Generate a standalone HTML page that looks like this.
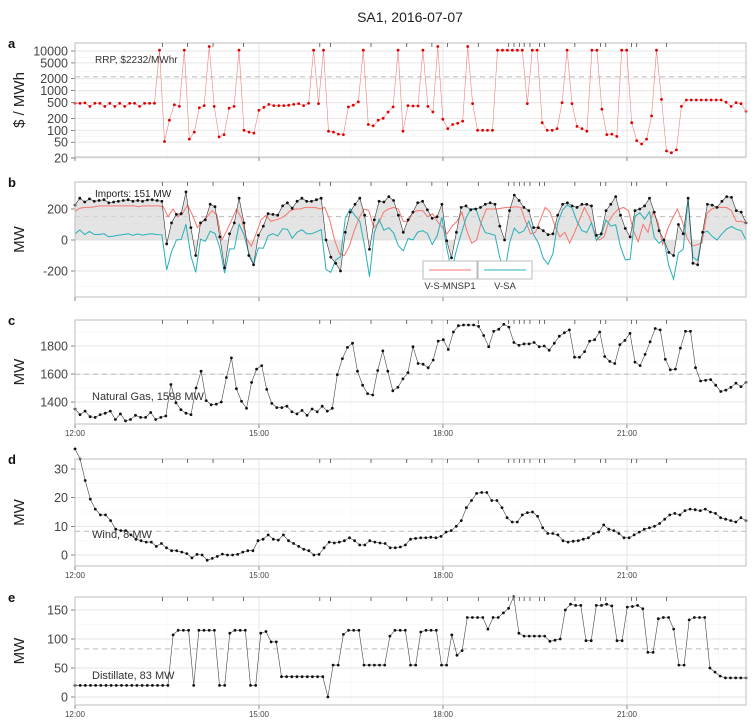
<!DOCTYPE html>
<html><head><meta charset="utf-8"><style>
html,body{margin:0;padding:0;background:#fff;}
svg{display:block;font-family:"Liberation Sans",sans-serif;}
</style></head><body>
<svg id="s" width="754" height="724" xmlns="http://www.w3.org/2000/svg"></svg>
<script>
const S=document.getElementById('s');let h='';
const X0=75,X1=746,HP=61.33;
const hx=t=>X0+(t-12)*HP;
h+='<text x="410" y="22" font-size="14" text-anchor="middle" fill="#222">SA1, 2016-07-07</text>';
function xs(n){const a=[];for(let i=0;i<n;i++)a.push(X0+(X1-X0)*i/(n-1));return a;}
const rug=[336,388,441,504,662,684,768,842,894,926,990,1053,1064,1075,1085,1097,1117,1127,1190,1243,1254,1307,1318,1380].map(v=>v/2.07);
function panel(p){
 const {top,bot,y,maj,min,letter,title,labels,dash,lab}=p;
 h+=`<rect x="${X0}" y="${top}" width="${X1-X0}" height="${bot-top}" fill="#fff"/>`;
 (min||[]).forEach(v=>{const yy=y(v);if(yy>top&&yy<bot)h+=`<line x1="${X0}" x2="${X1}" y1="${yy}" y2="${yy}" stroke="#f3f3f3" stroke-width="0.6"/>`;});
 [13.5,16.5,19.5,22.5].forEach(t=>h+=`<line x1="${hx(t)}" x2="${hx(t)}" y1="${top}" y2="${bot}" stroke="#f3f3f3" stroke-width="0.6"/>`);
 maj.forEach(v=>{const yy=y(v);h+=`<line x1="${X0}" x2="${X1}" y1="${yy}" y2="${yy}" stroke="#e6e6e6" stroke-width="1"/>`;
  h+=`<text x="68" y="${yy+4.5}" font-size="12.5" text-anchor="end" fill="#444">${v}</text><line x1="71" x2="75" y1="${yy}" y2="${yy}" stroke="#333" stroke-width="0.6"/>`;});
 [12,15,18,21].forEach(t=>{h+=`<line x1="${hx(t)}" x2="${hx(t)}" y1="${top}" y2="${bot}" stroke="#e6e6e6" stroke-width="1"/>`;
  h+=`<line x1="${hx(t)}" x2="${hx(t)}" y1="${bot}" y2="${bot+4}" stroke="#333" stroke-width="0.6"/>`;
  if(labels)h+=`<text x="${hx(t)}" y="${bot+12}" font-size="8" text-anchor="middle" fill="#444">${t}:00</text>`;});
 h+=`<line x1="${X0}" x2="${X1}" y1="${y(dash)}" y2="${y(dash)}" stroke="#bbb" stroke-width="1" stroke-dasharray="5,4"/>`;
 h+=`<text x="8" y="${top+5}" font-size="13" font-weight="bold" fill="#111">${letter}</text>`;
 const cy=(top+bot)/2;h+=`<text transform="translate(24,${cy}) rotate(-90)" font-size="15" text-anchor="middle" fill="#222">${title}</text>`;
}
function frame(top,bot){h+=`<rect x="${X0}" y="${top}" width="${X1-X0}" height="${bot-top}" fill="none" stroke="#bdbdbd" stroke-width="1"/>`;
 rug.forEach(x=>h+=`<line x1="${x}" x2="${x}" y1="${top}" y2="${top+4}" stroke="#333" stroke-width="0.7"/>`);}
function line(v,y,col,pts,w){const X=xs(v.length);h+=`<polyline fill="none" stroke="${col}" stroke-width="${w||0.6}" points="${v.map((d,i)=>X[i].toFixed(1)+','+y(d).toFixed(1)).join(' ')}"/>`;
 if(pts)v.forEach((d,i)=>h+=`<circle cx="${X[i].toFixed(1)}" cy="${y(d).toFixed(1)}" r="1.4" fill="${pts}"/>`);}
// panel a
const ya=v=>51+(4-Math.log10(v))*39.64;
panel({top:43,bot:157,y:ya,maj:[20,50,100,200,500,1000,2000,5000,10000],min:[30,70,150,300,700,1500,3000,7000],letter:'a',title:'$ / MWh',dash:2232});
const A=[480,480,490,400,480,480,400,480,400,480,400,480,480,400,480,480,480,10500,52,180,440,400,10500,60,90,370,420,13000,400,68,78,360,400,10500,100,90,85,320,380,450,420,420,420,430,450,470,420,480,10500,470,10500,95,90,80,78,390,430,520,10500,140,130,180,200,290,390,10500,95,420,410,410,10500,400,290,13000,190,110,140,150,170,13000,470,100,100,100,100,10500,10500,10500,10500,10500,10500,470,10500,10500,155,100,100,110,500,10500,470,125,110,95,10500,10500,340,78,80,70,10500,10500,155,55,45,60,230,10500,600,30,27,32,400,580,580,580,580,580,580,580,580,510,400,500,470,300];
line(A,v=>Math.max(ya(v),43),'#f08080','#e00000',0.6);
h+='<text x="95" y="63" font-size="10" fill="#333">RRP, $2232/MWhr</text>';
frame(43,157);
// panel b
const yb=v=>240-v*0.155;
panel({top:182,bot:297,y:yb,maj:[-200,0,200],min:[-300,-100,100,300],letter:'b',title:'MW',dash:151});
const B=[225,270,245,265,250,255,260,240,245,250,255,260,250,255,250,258,260,255,250,-25,110,165,170,310,80,-100,110,130,230,215,20,-180,40,110,270,110,-100,-160,30,90,170,165,160,220,240,205,250,270,250,250,260,270,0,-110,-150,-200,50,180,230,270,160,-60,130,250,245,280,255,160,50,130,180,240,250,195,140,150,230,-5,-115,50,210,220,195,200,210,230,240,230,90,0,190,290,255,210,190,80,80,60,35,40,160,230,240,220,210,230,230,220,30,40,190,230,280,160,75,20,190,200,220,270,180,60,0,-80,-100,100,40,270,-150,-160,50,230,225,210,250,280,275,190,180,110];
const R=[185,205,210,210,215,220,220,220,220,220,220,220,220,215,220,220,220,220,215,150,200,150,175,225,160,80,120,150,190,160,0,60,130,200,140,10,-40,40,130,160,120,130,140,160,190,200,200,210,210,210,200,210,130,0,-90,-100,-40,60,140,200,190,80,110,180,200,210,200,120,120,180,190,190,150,170,120,80,40,90,120,180,60,-20,0,120,200,200,200,205,210,210,215,210,120,40,50,130,210,180,90,20,50,-20,50,130,210,150,60,0,20,120,170,200,210,190,60,-10,100,50,180,120,-30,70,140,200,120,10,-40,-30,-20,170,200,210,210,210,190,120,120,110];
function interp(arr,f){const p=f*(arr.length-1),i=Math.floor(p),r=p-i;return i>=arr.length-1?arr[arr.length-1]:arr[i]*(1-r)+arr[i+1]*r;}
const T=B.map((v,i)=>v-interp(R,i/(B.length-1)));
{const X=xs(B.length);let d=`M${X0},${yb(0)} `+B.map((v,i)=>`L${X[i].toFixed(1)},${yb(v).toFixed(1)}`).join(' ')+` L${X1},${yb(0)} Z`;h+=`<path d="${d}" fill="#d9d9d9" fill-opacity="0.7"/>`;}
line(R,yb,'#f8766d',null,1);
line(T,yb,'#26b0b8',null,1);
line(B,yb,'#333','#111',0.6);
h+='<text x="95" y="197" font-size="10" fill="#222">Imports: 151 MW</text>';
h+='<rect x="423" y="261" width="54" height="18" fill="#fff" stroke="#bbb"/><line x1="429" x2="471" y1="270" y2="270" stroke="#f8766d" stroke-width="1"/>';
h+='<rect x="478" y="261" width="54" height="18" fill="#fff" stroke="#bbb"/><line x1="484" x2="526" y1="270" y2="270" stroke="#26b0b8" stroke-width="1"/>';
h+='<text x="450" y="289" font-size="9.5" text-anchor="middle" fill="#333">V-S-MNSP1</text><text x="505" y="289" font-size="9.5" text-anchor="middle" fill="#333">V-SA</text>';
frame(182,297);
// panel c
const yc=v=>374-(v-1600)*0.14;
panel({top:320,bot:424,y:yc,maj:[1400,1600,1800],min:[1300,1500,1700,1900],letter:'c',title:'MW',dash:1598,labels:1});
const C=[1350,1310,1335,1295,1290,1310,1320,1335,1275,1315,1265,1275,1305,1290,1290,1325,1275,1290,1300,1525,1395,1345,1320,1310,1500,1620,1410,1380,1385,1400,1575,1715,1495,1405,1355,1540,1635,1660,1490,1390,1360,1360,1370,1330,1315,1340,1305,1350,1330,1370,1335,1355,1595,1710,1790,1820,1620,1520,1460,1450,1625,1765,1620,1480,1505,1565,1610,1795,1675,1670,1645,1700,1835,1845,1775,1900,1945,1950,1950,1950,1940,1875,1795,1905,1920,1955,1935,1825,1805,1815,1815,1825,1795,1800,1770,1820,1870,1895,1915,1720,1720,1760,1835,1845,1900,1725,1690,1675,1810,1840,1890,1685,1660,1740,1830,1925,1915,1705,1630,1635,1785,1905,1905,1645,1550,1555,1560,1520,1475,1485,1505,1535,1510,1540];
line(C,yc,'#444','#111',0.6);
h+='<text x="92" y="400" font-size="11" fill="#333">Natural Gas, 1598 MW</text>';
frame(320,424);
// panel d
const yd=v=>555-v*2.867;
panel({top:459,bot:566,y:yd,maj:[0,10,20,30],min:[5,15,25],letter:'d',title:'MW',dash:8.3,labels:1});
const D=[37,33.5,26,19.5,16,14,14,12,9,8.5,8.5,7,5.5,5,4.5,4.5,3,4,2.5,1.5,1.5,1,0.5,-1,0.2,0,-1.8,-1.2,-0.5,0.3,0,0,0.2,1,1.5,1.5,5,5.5,7,5.5,5.2,7,5,4,3,2,1.5,0,0.2,2.5,4.5,4.2,4.5,5,6,5,3.5,3.5,5,4.5,4.2,4,2.5,2.5,2.8,3.5,5.5,5.8,6,6,6.2,6,6.5,8,8.5,10,12,16.5,19,21.5,21.8,21.8,19,19,16.5,13,11.5,11.5,14,14.8,15,13.5,9.5,7.5,7.5,7,5,4.5,4.8,5,5.5,6,7.5,8,10.5,9,8.5,7.5,6,6,7,8,9,9.5,10,11,12.5,14,14.5,14,15.5,16,15.8,15.5,16,15,14.5,13,12.5,12,11.5,13,12];
line(D,yd,'#444','#111',0.6);
h+='<text x="92" y="538" font-size="11" fill="#333">Wind, 8 MW</text>';
frame(459,566);
// panel e
const ye=v=>697-v*0.58;
panel({top:597,bot:705,y:ye,maj:[0,50,100,150],min:[25,75,125,175],letter:'e',title:'MW',dash:83,labels:1});
const E=[];for(let i=0;i<19;i++)E.push(20);
E.push(107,115,115,115,20,115,115,115,115,20,20,110,115,115,115,20,20,110,113,95,95);
for(let i=0;i<9;i++)E.push(35);
E.push(0,55,55,108,115,115,115,55,55,55,55,55,105,115,115,115,55,55,112,115,115,115,55,55,107,72,80,137,137,137,137,117,137,137,145,153,173,110,105,105,105,105,105,96,98,100,150,160,158,158,97,97,158,158,160,157,97,97,155,156,158,152,77,77,135,137,137,117,55,55,133,137,137,137,50,43,36,33,33,33,33,33);
line(E,ye,'#444','#111',0.6);
h+='<text x="92" y="679" font-size="11" fill="#333">Distillate, 83 MW</text>';
frame(597,705);
S.innerHTML=h;
</script>
</body></html>
